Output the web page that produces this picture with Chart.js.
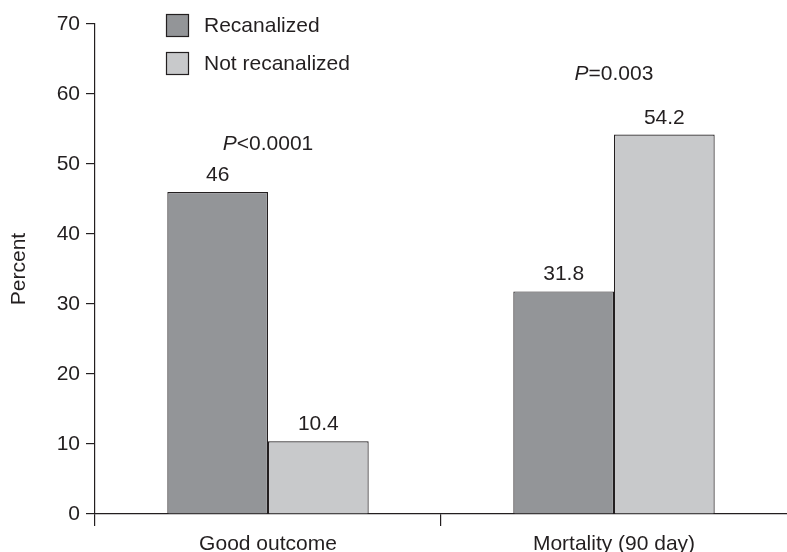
<!DOCTYPE html>
<html>
<head>
<meta charset="utf-8">
<script src="https://cdn.jsdelivr.net/npm/chart.js@4/dist/chart.umd.min.js"></script>
<style>
html,body{margin:0;padding:0;background:#fff;}
canvas{display:block;}
</style>
</head>
<body>
<canvas id="c" width="787" height="552"></canvas>
<script>
// ---- data ----
const categories = ['Good outcome', 'Mortality (90 day)'];
const seriesNames = ['Recanalized', 'Not recanalized'];
const recanalized = [46, 31.8];
const notRecanalized = [10.4, 54.2];
const pValueLabels = ['<0.0001', '=0.003'];
const pValueLevels = [52, 62];
const yTicks = [0, 10, 20, 30, 40, 50, 60, 70];

// ---- styles ----
const FONT = '"Liberation Sans", Arial, Helvetica, sans-serif';
const FS = 21;
const INK = '#231f20';
const DARK = '#939598';
const LIGHT = '#c8c9cb';

const labelsPlugin = {
  id: 'valueLabels',
  afterDatasetsDraw(chart) {
    const ctx = chart.ctx;
    ctx.save();
    ctx.fillStyle = INK;
    ctx.font = FS + 'px ' + FONT;
    ctx.textAlign = 'center';
    ctx.textBaseline = 'alphabetic';
    chart.data.datasets.forEach((ds, di) => {
      const meta = chart.getDatasetMeta(di);
      meta.data.forEach((bar, i) => {
        ctx.fillText(String(ds.data[i]), bar.x, bar.y - 11);
      });
    });
    // p-values
    const xs = chart.scales.x, ys = chart.scales.y;
    pValueLabels.forEach((txt, i) => {
      const cx = xs.getPixelForValue(i);
      const y = ys.getPixelForValue(pValueLevels[i]);
      ctx.font = 'italic ' + FS + 'px ' + FONT;
      const wP = ctx.measureText('P').width;
      ctx.font = FS + 'px ' + FONT;
      const wR = ctx.measureText(txt).width;
      const x0 = cx - (wP + wR) / 2;
      ctx.textAlign = 'left';
      ctx.font = 'italic ' + FS + 'px ' + FONT;
      ctx.fillText('P', x0, y);
      ctx.font = FS + 'px ' + FONT;
      ctx.fillText(txt, x0 + wP, y);
    });
    // legend
    chart.data.datasets.forEach((ds, di) => {
      const bx = 166, by = 14 + di * 38, s = 23;
      ctx.fillStyle = ds.backgroundColor;
      ctx.fillRect(bx, by, s, s);
      ctx.strokeStyle = INK;
      ctx.lineWidth = 1.2;
      ctx.strokeRect(bx + 0.5, by + 0.5, s - 1, s - 1);
      ctx.fillStyle = INK;
      ctx.font = FS + 'px ' + FONT;
      ctx.textAlign = 'left';
      ctx.textBaseline = 'middle';
      ctx.fillText(ds.label, 204, by + s / 2 + 1);
      ctx.textBaseline = 'alphabetic';
    });
    ctx.restore();
  }
};

new Chart(document.getElementById('c'), {
  type: 'bar',
  data: {
    labels: categories,
    datasets: [
      { label: seriesNames[0], data: recanalized, backgroundColor: DARK, borderColor: INK, borderWidth: 1.2,
        categoryPercentage: 0.582, barPercentage: 1 },
      { label: seriesNames[1], data: notRecanalized, backgroundColor: LIGHT, borderColor: INK, borderWidth: 1.2,
        categoryPercentage: 0.582, barPercentage: 1 }
    ]
  },
  options: {
    responsive: false,
    animation: false,
    devicePixelRatio: 1,
    layout: { padding: { top: 24, left: 0, right: 0, bottom: 0 } },
    plugins: { legend: { display: false }, tooltip: { enabled: false } },
    scales: {
      x: {
        offset: true,
        grid: { offset: true, drawOnChartArea: false, drawTicks: true, tickLength: 12,
                color: (c) => (c.tick === undefined ? 'rgba(0,0,0,0)' : INK), lineWidth: 1.2 },
        border: { display: true, color: INK, width: 1.2 },
        ticks: { color: INK, font: { family: FONT, size: FS }, padding: 6, maxRotation: 0 },
        afterFit(scale) { scale.height = 38; }
      },
      y: {
        min: 0, max: 70,
        afterBuildTicks(scale) { scale.ticks = yTicks.map(v => ({ value: v })); },
        grid: { drawOnChartArea: false, drawTicks: true, tickLength: 9, color: INK, lineWidth: 1.2 },
        border: { display: true, color: INK, width: 1.2 },
        ticks: { color: INK, font: { family: FONT, size: FS }, padding: 6 },
        title: { display: true, text: 'Percent', color: INK, font: { family: FONT, size: FS }, padding: { top: 7, bottom: 0 } },
        afterFit(scale) { scale.width = 95; }
      }
    }
  },
  plugins: [labelsPlugin]
});
</script>
</body>
</html>
